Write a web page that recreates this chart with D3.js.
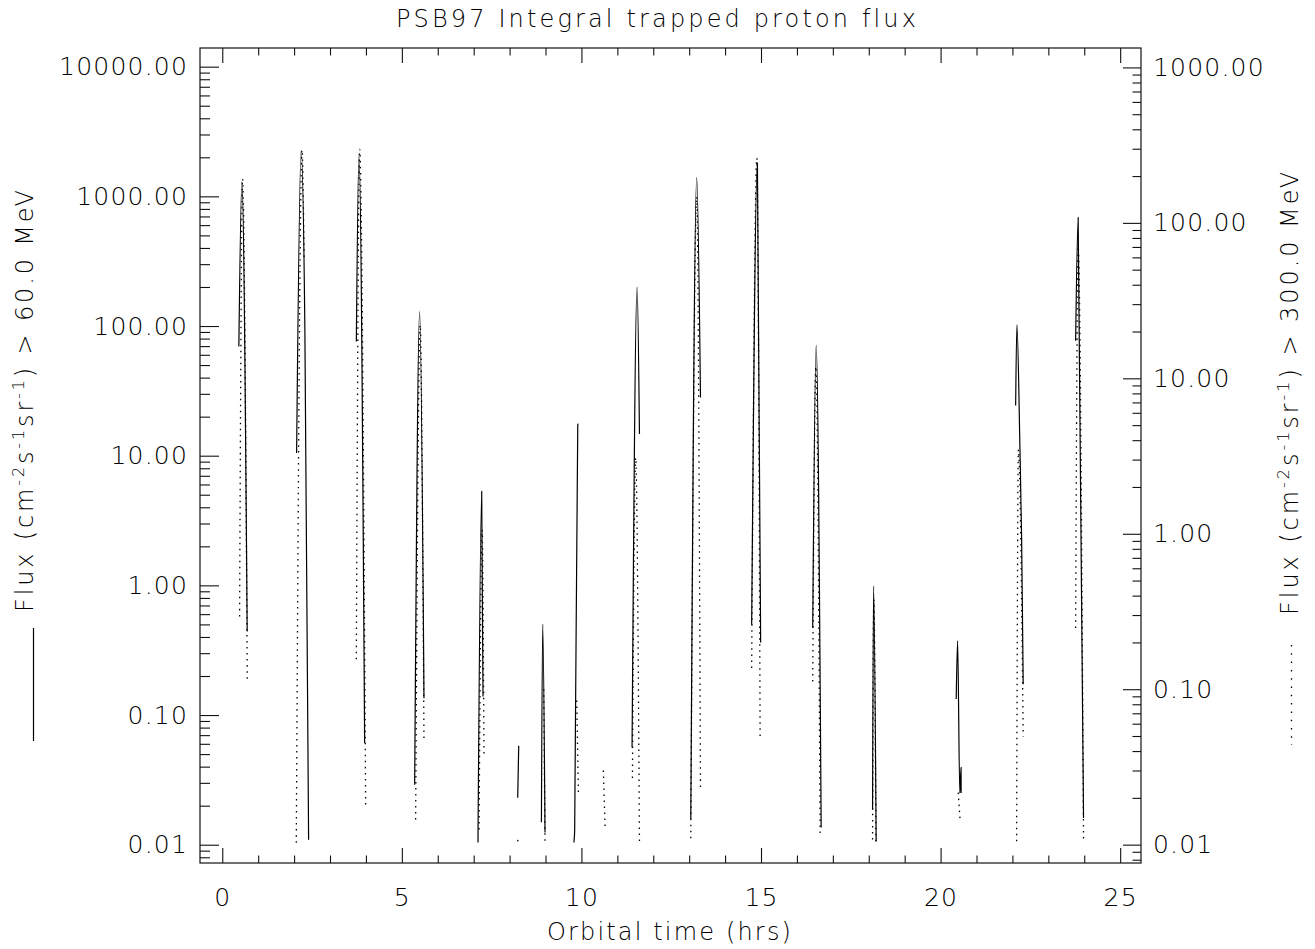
<!DOCTYPE html>
<html><head><meta charset="utf-8">
<script src="https://cdn.jsdelivr.net/npm/d3@7"></script>
<style>
body{margin:0;background:#fff;}
text{font-family:"DejaVu Sans",sans-serif;font-weight:200;fill:#000;}
</style></head><body>
<svg id="c" width="1315" height="949" xmlns="http://www.w3.org/2000/svg"></svg>
<script>
// ---- data ----
const titleText = "PSB97 Integral trapped proton flux";
const xLabel = "Orbital time (hrs)";
const xTicksMajor = [0, 5, 10, 15, 20, 25];
const leftTicks = [0.01, 0.1, 1, 10, 100, 1000, 10000];
const rightTicks = [0.01, 0.1, 1, 10, 100, 1000];
// integral flux > 60 MeV (solid, left axis): each pass = [time hrs, flux]
const flux60 = [
  [[0.462,69.5],[0.546,1294],[0.694,0.44]],
  [[2.070,10.5],[2.195,2265],[2.300,93.5],[2.404,0.0109]],
  [[3.733,75.9],[3.805,2064],[3.964,0.061]],
  [[5.357,0.029],[5.496,129],[5.616,0.135]],
  [[7.120,0.0104],[7.223,5.3],[7.260,0.139]],
  [[8.226,0.023],[8.254,0.058]],
  [[8.886,0.0149],[8.922,0.503],[8.986,0.0124]],
  [[9.790,0.0104],[9.812,0.013],[9.898,17.3],[9.917,17.6]],
  [[11.41,0.0562],[11.55,199.5],[11.616,14.7]],
  [[13.045,0.0158],[13.21,1396],[13.315,28.1]],
  [[14.74,0.497],[14.90,1803],[14.99,0.363]],
  [[16.44,0.469],[16.535,70.8],[16.675,0.0136]],
  [[18.106,0.0186],[18.134,0.993],[18.206,0.0106]],
  [[20.435,0.133],[20.474,0.374],[20.535,0.025],[20.570,0.0394],[20.572,0.025]],
  [[22.09,24.4],[22.125,102],[22.21,11.1],[22.256,2.25],[22.30,0.173]],
  [[23.76,76.9],[23.83,687],[23.98,0.0161]]
];
// integral flux > 300 MeV (dotted, right axis)
const flux300 = [
  [[0.482,0.294],[0.565,192],[0.696,0.115]],
  [[2.061,0.0103],[2.223,294],[2.279,57.8]],
  [[3.733,0.156],[3.825,298],[3.992,0.0178]],
  [[5.384,0.0145],[5.510,22],[5.616,0.047]],
  [[7.150,0.0125],[7.235,1.06],[7.287,0.0385]],
  [[8.228,0.0105],[8.236,0.0113]],
  [[8.950,0.10],[8.986,0.0105]],
  [[9.869,0.0847],[9.916,0.0215]],
  [[10.61,0.030],[10.66,0.0129]],
  [[11.42,0.0268],[11.51,3.08],[11.616,0.0102]],
  [[13.045,0.011],[13.21,147],[13.315,0.0222]],
  [[14.74,0.137],[14.883,260.6],[14.975,0.0496]],
  [[16.44,0.112],[16.527,11.9],[16.647,0.0113]],
  [[18.106,0.0108],[18.14,0.377],[18.20,0.0104]],
  [[20.49,0.0216],[20.546,0.0141]],
  [[22.117,0.0105],[22.167,3.47],[22.30,0.0497]],
  [[23.76,0.248],[23.83,70.5],[23.98,0.0108]]
];

// ---- layout ----
const svg = d3.select("#c");
const P = {l:200, r:1141, t:48, b:863};
const x = d3.scaleLinear().domain([-0.62, 25.58]).range([P.l, P.r]);
const yL = d3.scaleLog().domain([Math.pow(10,-2.141), Math.pow(10,4.144)]).range([P.b, P.t]);
const yR = d3.scaleLog().domain([Math.pow(10,-2.118), Math.pow(10,3.125)]).range([P.b, P.t]);

function logMinors(scale, majors){
  const [a,b] = scale.domain(); const out=[];
  for (let d=-4; d<=5; d++) for (let k=1;k<=9;k++){
    const v = k*Math.pow(10,d);
    if (v>=a && v<=b && !majors.some(m=>Math.abs(m-v)/m<1e-9)) out.push(v);
  }
  return out;
}
const xMinor = d3.range(0, 26).filter(v=>!xTicksMajor.includes(v));

const tickFont = 25;
function styleAxis(g){
  g.select(".domain").remove();
  g.selectAll("line").attr("stroke","#111").attr("stroke-width",1.1);
  g.selectAll("text").attr("font-size",tickFont).attr("fill","#000")
    .attr("font-family",null).style("letter-spacing","1.2px");
}

svg.append("g").attr("transform",`translate(${P.l},0)`)
  .call(d3.axisLeft(yL).tickValues(leftTicks).tickFormat(d3.format(".2f")).tickSize(-19).tickPadding(12)).call(styleAxis);
svg.append("g").attr("transform",`translate(${P.l},0)`)
  .call(d3.axisLeft(yL).tickValues(logMinors(yL,leftTicks)).tickFormat("").tickSize(-10)).call(styleAxis);
svg.append("g").attr("transform",`translate(${P.r},0)`)
  .call(d3.axisRight(yR).tickValues(rightTicks).tickFormat(d3.format(".2f")).tickSize(-18).tickPadding(12)).call(styleAxis);
svg.append("g").attr("transform",`translate(${P.r},0)`)
  .call(d3.axisRight(yR).tickValues(logMinors(yR,rightTicks)).tickFormat("").tickSize(-8.5)).call(styleAxis);
svg.append("g").attr("transform",`translate(0,${P.b})`)
  .call(d3.axisBottom(x).tickValues(xTicksMajor).tickFormat(d3.format("d")).tickSize(-15).tickPadding(25)).call(styleAxis);
svg.append("g").attr("transform",`translate(0,${P.b})`)
  .call(d3.axisBottom(x).tickValues(xMinor).tickFormat("").tickSize(-7.5)).call(styleAxis);
svg.append("g").attr("transform",`translate(0,${P.t})`)
  .call(d3.axisTop(x).tickValues(xTicksMajor).tickFormat("").tickSize(-15)).call(styleAxis);
svg.append("g").attr("transform",`translate(0,${P.t})`)
  .call(d3.axisTop(x).tickValues(xMinor).tickFormat("").tickSize(-7.5)).call(styleAxis);

svg.append("rect").attr("x",P.l).attr("y",P.t).attr("width",P.r-P.l).attr("height",P.b-P.t)
  .attr("fill","none").attr("stroke","#111").attr("stroke-width",1.2);

svg.append("clipPath").attr("id","clip").append("rect")
  .attr("x",P.l).attr("y",P.t).attr("width",P.r-P.l).attr("height",P.b-P.t);
const plot = svg.append("g").attr("clip-path","url(#clip)");

const line60 = d3.line().x(d=>x(d[0])).y(d=>yL(d[1])).curve(d3.curveMonotoneX);
const line300 = d3.line().x(d=>x(d[0])).y(d=>yR(d[1])).curve(d3.curveMonotoneX);

plot.selectAll("path.s").data(flux60).join("path").attr("class","s")
  .attr("d",line60).attr("fill","none").attr("stroke","#000").attr("stroke-width",1.2);
plot.selectAll("path.d").data(flux300).join("path").attr("class","d")
  .attr("d",line300).attr("fill","none").attr("stroke","#000").attr("stroke-width",1.3)
  .attr("stroke-dasharray","1.5,4.5");

function fit(sel, target){
  const n = sel.text().length;
  const len = sel.node().getComputedTextLength();
  sel.style("letter-spacing", ((target-len)/Math.max(1,n-1))+"px");
}
const tt = svg.append("text").attr("x",657.5).attr("y",27).attr("text-anchor","middle")
  .attr("font-size",24).text(titleText);
fit(tt, 520);
const xl = svg.append("text").attr("x",670).attr("y",940).attr("text-anchor","middle")
  .attr("font-size",24).text(xLabel);
fit(xl, 244);

function yTitle(tx, ty, energy, target){
  const t = svg.append("text").attr("transform",`translate(${tx},${ty}) rotate(-90)`)
    .attr("font-size",24);
  const parts = [["Flux (cm",0],["-2",1],["s",0],["-1",1],["sr",0],["-1",1],[") > "+energy+" MeV",0]];
  let up = false;
  parts.forEach(([s,sup])=>{
    const sp = t.append("tspan").text(s);
    if (sup && !up){ sp.attr("dy",-9).attr("font-size",16); up=true; }
    else if (!sup && up){ sp.attr("dy",9); up=false; }
    else if (sup) sp.attr("font-size",16);
  });
  const len = t.node().getComputedTextLength();
  const n = t.text().length;
  t.style("letter-spacing", ((target-len)/(n-1))+"px");
  return t;
}
yTitle(33, 612, "60.0", 422);
yTitle(1298, 615, "300.0", 443);

svg.append("line").attr("x1",33.5).attr("x2",33.5).attr("y1",628).attr("y2",741)
  .attr("stroke","#000").attr("stroke-width",1.2);
svg.append("line").attr("x1",1291.5).attr("x2",1291.5).attr("y1",645).attr("y2",745)
  .attr("stroke","#000").attr("stroke-width",1.3).attr("stroke-dasharray","1.5,6.8");
</script>
</body></html>
